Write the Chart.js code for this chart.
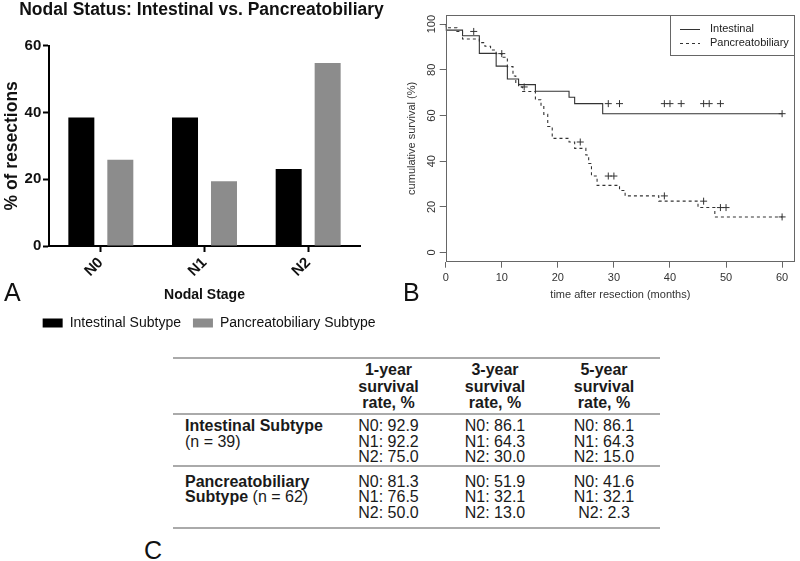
<!DOCTYPE html>
<html>
<head>
<meta charset="utf-8">
<script src="https://cdn.jsdelivr.net/npm/chart.js@4.4.1/dist/chart.umd.min.js"></script>
<style>
  html, body { margin:0; padding:0; background:#fff; }
  #wrap { position:relative; width:800px; height:561px; overflow:hidden; background:#fff; font-family:'Liberation Sans', Arial, Helvetica, sans-serif; }
  #cA { position:absolute; left:0; top:0; }
  #cB { position:absolute; left:400px; top:0; }
  .plabel { position:absolute; font-size:25px; line-height:25px; color:#111; font-family:'Liberation Sans', Arial, sans-serif; }
  #tbl { position:absolute; left:173px; top:357px; width:487px; border-collapse:collapse; table-layout:fixed; font-size:16px; color:#1a1a1a; }
  #tbl td, #tbl th { padding:0; vertical-align:top; }
  #tbl th { font-weight:bold; text-align:center; line-height:16.5px; padding-top:3px; padding-bottom:1.5px; border-top:2px solid #aaa; border-bottom:2px solid #aaa; }
  #tbl td { line-height:15.5px; }
  #tbl td.val { text-align:center; }
  #tbl td.lab { padding-left:12px; text-align:left; }
  #tbl tr.g0 td { padding-top:3.25px; padding-bottom:0; border-bottom:2px solid #aaa; }
  #tbl tr.g1 td { padding-top:7.2px; padding-bottom:6.8px; border-bottom:2px solid #aaa; }
</style>
</head>
<body>
<div id="wrap">
  <canvas id="cA" width="400" height="340"></canvas>
  <canvas id="cB" width="400" height="310"></canvas>
  <div class="plabel" style="left:4px; top:280px;">A</div>
  <div class="plabel" style="left:403px; top:280px;">B</div>
  <div class="plabel" style="left:144px; top:538px;">C</div>
  <table id="tbl"></table>
</div>
<script>
// ---------- Panel A data ----------
const stageLabels = ['N0', 'N1', 'N2'];
const intestinalPct = [38.5, 38.5, 23.1];
const pancreatobiliaryPct = [25.8, 19.4, 54.8];
const yTicksA = [0, 20, 40, 60];

// ---------- Panel B data (Kaplan-Meier steps) ----------
const intestinalTimes = [0, 3, 6, 9, 11, 13, 16, 22, 23, 28, 53, 60];
const intestinalSurv  = [100, 97.4, 94.9, 87.2, 81.6, 76.0, 73.5, 70.6, 68.0, 65.2, 60.8, 60.8];
const intestinalCensorTimes = [29, 31, 39, 40, 42, 46, 47, 49, 60];
const intestinalCensorSurv  = [65.2, 65.2, 65.2, 65.2, 65.2, 65.2, 65.2, 65.2, 60.8];

const pancTimes = [0, 2, 3, 6, 7, 8, 9, 10, 11, 12, 12.5, 13, 13.7, 16, 17, 17.5, 18.2, 19, 22, 23, 25, 25.5, 26, 27, 31, 32, 38, 45, 48, 54, 60];
const pancSurv  = [100, 98.4, 96.8, 93.5, 91.9, 90.3, 88.7, 87.1, 85.5, 81.4, 77.3, 74.1, 72.5, 70.5, 66.9, 63.9, 60.5, 55.2, 50.0, 48.4, 45.6, 42.7, 39.0, 33.5, 29.4, 27.2, 24.8, 22.5, 19.7, 15.6, 15.6];
const pancCensorTimes = [5, 10, 14, 24, 29, 30, 39, 46, 49, 50, 60];
const pancCensorSurv  = [96.8, 87.1, 72.5, 48.4, 33.5, 33.5, 24.8, 22.5, 19.7, 19.7, 15.6];

const timeTicks = [0, 10, 20, 30, 40, 50, 60];
const survTicks = [0, 20, 40, 60, 80, 100];

// ---------- Panel C data ----------
const groupNames = ['Intestinal Subtype', 'Pancreatobiliary Subtype'];
const groupN = [39, 62];
const horizonHeaders = ['1-year', '3-year', '5-year'];
const nodalRows = ['N0', 'N1', 'N2'];
const intestinal1y = [92.9, 92.2, 75.0];
const intestinal3y = [86.1, 64.3, 30.0];
const intestinal5y = [86.1, 64.3, 15.0];
const panc1y = [81.3, 76.5, 50.0];
const panc3y = [51.9, 32.1, 13.0];
const panc5y = [41.6, 32.1, 2.3];

const FAMILY = "'Liberation Sans', Arial, Helvetica, sans-serif";
Chart.defaults.font.family = FAMILY;

// ---------- Chart A ----------
new Chart(document.getElementById('cA'), {
  type: 'bar',
  data: {
    labels: stageLabels,
    datasets: [
      { label: 'Intestinal Subtype', data: intestinalPct, backgroundColor: '#000000', borderWidth: 0, categoryPercentage: 0.752, barPercentage: 0.667 },
      { label: 'Pancreatobiliary Subtype', data: pancreatobiliaryPct, backgroundColor: '#8c8c8c', borderWidth: 0, categoryPercentage: 0.752, barPercentage: 0.667 }
    ]
  },
  options: {
    responsive: false, animation: false, devicePixelRatio: 1,
    layout: { padding: { left: 15.4, right: 12.4, top: 0, bottom: 0 } },
    plugins: {
      title: { display: true, text: 'Nodal Status: Intestinal vs. Pancreatobiliary', color: '#111',
               font: { size: 17.5, weight: 'bold' }, padding: { top: 0, bottom: 24.7 } },
      legend: { position: 'bottom', align: 'end',
                labels: { boxWidth: 20, boxHeight: 9, padding: 12, color: '#111', font: { size: 14 } } },
      tooltip: { enabled: false }
    },
    scales: {
      x: {
        grid: { display: true, drawOnChartArea: false, drawTicks: true, tickLength: 6, tickWidth: 2, tickColor: '#000', offset: false },
        border: { display: true, width: 2, color: '#000' },
        ticks: { minRotation: 45, maxRotation: 45, color: '#111', font: { size: 15, weight: 'bold' }, padding: 2 },
        title: { display: true, text: 'Nodal Stage', color: '#111', font: { size: 14, weight: 'bold' }, padding: 0 },
        afterFit: s => { s.height = 58; }
      },
      y: {
        min: 0, max: 60,
        afterBuildTicks: s => { s.ticks = yTicksA.map(v => ({ value: v })); },
        grid: { display: true, drawOnChartArea: false, drawTicks: true, tickLength: 6, tickWidth: 2, tickColor: '#000' },
        border: { display: true, width: 2, color: '#000' },
        ticks: { color: '#111', font: { size: 15, weight: 'bold' }, padding: 1.7 },
        title: { display: true, text: '% of resections', color: '#111', font: { size: 17.5, weight: 'bold' }, padding: { top: -14.2, bottom: 0 } },
        afterFit: s => { s.width = 33.6; }
      },
      yR: {
        position: 'right', display: true,
        grid: { display: false }, border: { display: false }, ticks: { display: false },
        afterFit: s => { s.width = 27.6; }
      }
    }
  }
});

// ---------- Chart B ----------
const kmColor = '#333333';
const boxColor = '#666666';
const rFrame = {
  id: 'rFrame',
  afterDraw(chart) {
    const { ctx, chartArea: a, scales } = chart;
    ctx.save();
    ctx.strokeStyle = boxColor; ctx.lineWidth = 1;
    ctx.strokeRect(Math.round(a.left) + 0.5, Math.round(a.top) + 0.5, Math.round(a.right - a.left) - 1, Math.round(a.bottom - a.top) - 1);
    // rotated y tick labels (R style)
    ctx.fillStyle = '#333'; ctx.font = '11px ' + FAMILY; ctx.textAlign = 'center'; ctx.textBaseline = 'middle';
    survTicks.forEach(v => {
      const y = scales.y.getPixelForValue(v);
      ctx.save(); ctx.translate(a.left - 14, y); ctx.rotate(-Math.PI / 2); ctx.fillText(String(v), 0, 0); ctx.restore();
    });
    // legend box
    const lx = a.right - 125, ly = a.top, lw = 125, lh = 40;
    ctx.fillStyle = '#fff'; ctx.fillRect(lx, ly, lw, lh);
    ctx.strokeStyle = boxColor; ctx.strokeRect(Math.round(lx) + 0.5, Math.round(ly) + 0.5, lw - 1, lh);
    const items = [chart.data.datasets[0], chart.data.datasets[1]];
    items.forEach((ds, i) => {
      const yy = ly + 14 + i * 13.7;
      ctx.strokeStyle = kmColor; ctx.lineWidth = 1;
      ctx.setLineDash(ds.borderDash || []);
      ctx.beginPath(); ctx.moveTo(lx + 10, Math.round(yy) + 0.5); ctx.lineTo(lx + 30, Math.round(yy) + 0.5); ctx.stroke();
      ctx.setLineDash([]);
      ctx.fillStyle = '#222'; ctx.textAlign = 'left'; ctx.textBaseline = 'middle';
      ctx.fillText(ds.label, lx + 40, yy);
    });
    ctx.restore();
  }
};

const toXY = (xs, ys) => xs.map((x, i) => ({ x: x, y: ys[i] }));

new Chart(document.getElementById('cB'), {
  type: 'scatter',
  data: {
    datasets: [
      { label: 'Intestinal', data: toXY(intestinalTimes, intestinalSurv), showLine: true, stepped: 'after',
        borderColor: kmColor, borderWidth: 1.1, pointRadius: 0, fill: false },
      { label: 'Pancreatobiliary', data: toXY(pancTimes, pancSurv), showLine: true, stepped: 'after',
        borderColor: kmColor, borderWidth: 1.1, borderDash: [3, 3], pointRadius: 0, fill: false },
      { label: 'Intestinal censored', data: toXY(intestinalCensorTimes, intestinalCensorSurv), showLine: false,
        pointStyle: 'cross', pointRadius: 3.5, borderColor: kmColor, pointBorderWidth: 1, borderWidth: 1 },
      { label: 'Pancreatobiliary censored', data: toXY(pancCensorTimes, pancCensorSurv), showLine: false,
        pointStyle: 'cross', pointRadius: 3.5, borderColor: kmColor, pointBorderWidth: 1, borderWidth: 1 }
    ]
  },
  options: {
    responsive: false, animation: false, devicePixelRatio: 1,
    layout: { padding: { left: 0, right: 3.3, top: 15, bottom: 0 } },
    plugins: { legend: { display: false }, tooltip: { enabled: false }, title: { display: false } },
    scales: {
      x: {
        type: 'linear', min: 0, max: 62.3,
        afterBuildTicks: s => { s.ticks = timeTicks.map(v => ({ value: v })); },
        grid: { display: true, drawOnChartArea: false, drawTicks: true, tickLength: 6, tickWidth: 1, tickColor: boxColor },
        border: { display: false },
        ticks: { color: '#333', font: { size: 11 }, padding: 4, maxRotation: 0 },
        title: { display: true, text: 'time after resection (months)', color: '#333', font: { size: 11 }, padding: { top: 0, bottom: 8.4 } },
        afterFit: s => { s.height = 48.3; }
      },
      y: {
        type: 'linear', min: -4, max: 104,
        afterBuildTicks: s => { s.ticks = survTicks.map(v => ({ value: v })); },
        grid: { display: true, drawOnChartArea: false, drawTicks: true, tickLength: 6, tickWidth: 1, tickColor: boxColor },
        border: { display: false },
        ticks: { display: false },
        title: { display: true, text: 'cumulative survival (%)', color: '#333', font: { size: 11 }, padding: { top: 5.1, bottom: 0 } },
        afterFit: s => { s.width = 45.7; }
      }
    }
  },
  plugins: [rFrame]
});

// ---------- Table C ----------
(function buildTable() {
  const tbl = document.getElementById('tbl');
  const colgroup = '<colgroup><col style="width:162px"><col style="width:107px"><col style="width:106px"><col style="width:112px"></colgroup>';
  let head = '<thead><tr><th></th>' + horizonHeaders.map(h => '<th>' + h + '<br>survival<br>rate, %</th>').join('') + '</tr></thead>';
  const groups = [
    { cols: [intestinal1y, intestinal3y, intestinal5y],
      label: '<b>' + groupNames[0] + '</b><br>(n = ' + groupN[0] + ')' },
    { cols: [panc1y, panc3y, panc5y],
      label: '<b>' + groupNames[1].split(' ')[0] + '</b><br><b>' + groupNames[1].split(' ')[1] + '</b> (n = ' + groupN[1] + ')' }
  ];
  let body = '<tbody>';
  groups.forEach((g, gi) => {
    body += '<tr class="g' + gi + '"><td class="lab">' + g.label + '</td>';
    g.cols.forEach(col => {
      body += '<td class="val">' + col.map((v, i) => nodalRows[i] + ': ' + v.toFixed(1)).join('<br>') + '</td>';
    });
    body += '</tr>';
  });
  body += '</tbody>';
  tbl.innerHTML = colgroup + head + body;
})();
</script>
</body>
</html>
